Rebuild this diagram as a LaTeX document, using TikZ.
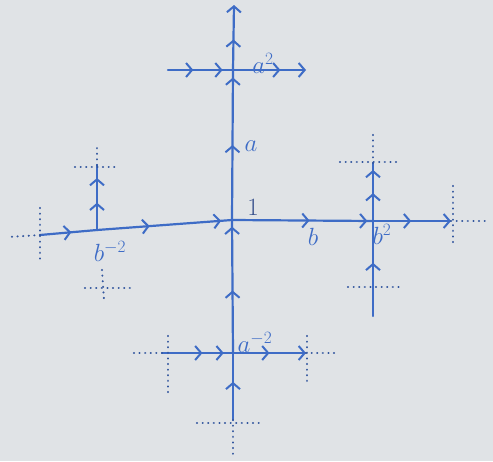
\documentclass[tikz,border=0pt]{standalone}
\usetikzlibrary{arrows.meta,decorations.markings}
\definecolor{pen}{RGB}{62,108,198}
\definecolor{paper}{RGB}{224,227,230}
\definecolor{ink}{RGB}{55,80,140}
\tikzset{
  >={Straight Barb[length=6pt,width=14pt,line width=2pt]},
  edge/.style={pen,line width=2.2pt,line cap=round},
  dots/.style={pen!80!black,line width=2.2pt,line cap=round,dash pattern=on 0.1pt off 5.5pt},
  lbl/.style={pen,font=\fontsize{25}{27}\selectfont},
  am/.style={postaction={decorate},decoration={markings,mark=at position #1 with {\arrow{>}}}},
  am2/.style 2 args={postaction={decorate},decoration={markings,
     mark=at position #1 with {\arrow{>}},mark=at position #2 with {\arrow{>}}}},
}
\begin{document}
\begin{tikzpicture}[x=1pt,y=-1pt]
\fill[paper] (0,0) rectangle (493,461);
\useasboundingbox (0,0) rectangle (493,461);
% vertices
\coordinate (A) at (232,220);
\coordinate (a2) at (233,70);
\coordinate (am2) at (233,353);
\coordinate (b2) at (373,221);
\coordinate (bm2) at (97,230);
% free ends
\coordinate (top) at (234,5);
\coordinate (bot) at (233,420);
\coordinate (botE) at (233,458);
\coordinate (bR) at (451,221);
\coordinate (bRE) at (488,221);
\coordinate (bL) at (40,235);
\coordinate (bLE) at (8,237);
\coordinate (bmU) at (97,165);
\coordinate (bmUE) at (97,148);
\coordinate (bmD) at (102,270);
\coordinate (bmDE) at (104,300);
\coordinate (b2U) at (373,163);
\coordinate (b2UE) at (373,132);
\coordinate (b2D) at (373,316);
\coordinate (a2L) at (168,70);
\coordinate (a2R) at (306,70);
\coordinate (am2L) at (162,353);
\coordinate (am2LE) at (130,353);
\coordinate (am2R) at (306,353);
\coordinate (am2RE) at (338,353);
% solid edges
\draw[edge,->,am=0.47] (a2) -- (top);
\draw[edge,am2={0.5}{0.95}] (A) -- (a2);
\draw[edge,am2={0.47}{0.95}] (am2) -- (A);
\draw[edge,am=0.57] (bot) -- (am2);
\draw[edge,am2={0.39}{0.92}] (bm2) -- (A);
\draw[edge,am2={0.55}{0.96}] (A) -- (b2);
\draw[edge,->,am=0.49] (b2) -- (bR);
\draw[edge,am=0.55] (bL) -- (bm2);
\draw[edge,am2={0.42}{0.8}] (bm2) -- (bmU);
\draw[edge,am2={0.48}{0.88}] (b2) -- (b2U);
\draw[edge,am=0.56] (b2D) -- (b2);
\draw[edge,am2={0.39}{0.84}] (a2L) -- (a2);
\draw[edge,->,am=0.65] (a2) -- (a2R);
\draw[edge,am2={0.57}{0.87}] (am2L) -- (am2);
\draw[edge,->,am=0.5] (am2) -- (am2R);
% dotted continuations
\draw[dots] (bot) -- (botE);
\draw[dots] (197,423) -- (264,423);
\draw[dots] (bR) -- (bRE);
\draw[dots] (453,186) -- (453,243);
\draw[dots] (bL) -- (bLE);
\draw[dots] (40,208) -- (40,262);
\draw[dots] (bmU) -- (bmUE);
\draw[dots] (75,167) -- (116,167);
\draw[dots] (bmD) -- (bmDE);
\draw[dots] (85,288) -- (130,288);
\draw[dots] (b2U) -- (b2UE);
\draw[dots] (340,162) -- (399,162);
\draw[dots] (348,287) -- (402,287);
\draw[dots] (am2L) -- (am2LE);
\draw[dots] (168,336) -- (168,396);
\draw[dots] (am2R) -- (am2RE);
\draw[dots] (307,336) -- (307,382);
% labels
\node[lbl,text=ink] (lA) at (253,207) {$1$};
\node[lbl] (la) at (251,146) {$a$};
\node[lbl] (lb) at (313,237) {$b$};
\node[lbl] (la2) at (263,63) {$a^2$};
\node[lbl] (lb2) at (382,234) {$b^2$};
\node[lbl] (lbm2) at (110,251) {$b^{-2}$};
\node[lbl] (lam2) at (255,342) {$a^{-2}$};
\end{tikzpicture}
\end{document}
